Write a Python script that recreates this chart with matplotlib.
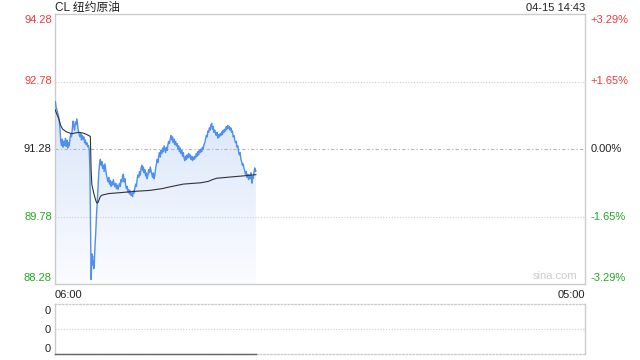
import numpy as np
import matplotlib
matplotlib.use("Agg")
import matplotlib.pyplot as plt
from matplotlib.colors import LinearSegmentedColormap
import matplotlib.transforms as mtransforms

plt.rcParams['font.family'] = ['Liberation Sans', 'Noto Sans CJK SC', 'DejaVu Sans']

# minutes after 06:00, price
minutes = [0, 1, 3, 5, 7, 9, 11, 13, 15, 17, 19, 21, 23, 25, 27, 29, 31, 33, 35, 37,
           39, 41, 43, 45, 47, 49, 51, 53, 55, 57, 59, 61, 63, 65, 67, 69, 71, 73, 75, 77,
           79, 81, 83, 85, 87, 89, 91, 92, 93, 94, 95, 96, 97, 98, 99, 100, 101, 102, 104, 106,
           108, 110, 112, 114, 116, 118, 120, 122, 124, 126, 128, 130, 132, 134, 136, 138, 140, 142, 144, 146,
           148, 150, 152, 154, 156, 158, 160, 162, 164, 166, 168, 170, 172, 174, 176, 178, 180, 182, 184, 186,
           188, 190, 192, 194, 196, 198, 200, 202, 204, 206, 208, 210, 212, 214, 216, 218, 220, 222, 224, 226,
           228, 230, 232, 234, 236, 238, 240, 242, 244, 246, 248, 250, 252, 254, 256, 258, 260, 262, 264, 266,
           268, 270, 272, 274, 276, 278, 280, 282, 284, 286, 288, 290, 292, 294, 296, 298, 300, 302, 304, 306,
           308, 310, 312, 314, 316, 318, 320, 322, 324, 326, 328, 330, 332, 334, 336, 338, 340, 342, 344, 346,
           348, 350, 352, 354, 356, 358, 360, 362, 364, 366, 368, 370, 372, 374, 376, 378, 380, 382, 384, 386,
           388, 390, 392, 394, 396, 398, 400, 402, 404, 406, 408, 410, 412, 414, 416, 418, 420, 422, 424, 426,
           428, 430, 432, 434, 436, 438, 440, 442, 444, 446, 448, 450, 452, 454, 456, 458, 460, 462, 464, 466,
           468, 470, 472, 474, 476, 478, 480, 482, 484, 486, 488, 490, 492, 494, 496, 498, 500, 502, 504, 506,
           508, 510, 512, 513, 514, 516, 518, 520, 522, 523]
price = [92.25, 92.33, 92.20, 92.15, 92.08, 92.02, 91.90, 91.72, 91.45, 91.36, 91.50, 91.32, 91.45, 91.36, 91.52, 91.34, 91.48, 91.30, 91.42, 91.35,
         91.52, 91.60, 91.55, 91.72, 91.90, 91.78, 91.70, 91.88, 91.82, 91.95, 91.80, 91.68, 91.60, 91.55, 91.62, 91.48, 91.58, 91.50, 91.55, 91.42,
         91.48, 91.38, 91.42, 91.33, 91.36, 91.28, 90.80, 90.00, 89.30, 88.38, 88.60, 88.95, 88.85, 88.90, 88.70, 88.80, 88.62, 88.68, 89.10, 89.40,
         89.80, 90.10, 90.45, 90.75, 90.95, 91.05, 90.92, 91.00, 90.85, 90.92, 90.78, 90.95, 90.82, 90.70, 90.62, 90.55, 90.65, 90.50, 90.58, 90.45,
         90.55, 90.48, 90.60, 90.50, 90.44, 90.52, 90.40, 90.48, 90.38, 90.45, 90.52, 90.45, 90.60, 90.55, 90.68, 90.72, 90.55, 90.62, 90.48, 90.40,
         90.45, 90.32, 90.38, 90.28, 90.35, 90.25, 90.30, 90.22, 90.35, 90.30, 90.42, 90.50, 90.45, 90.62, 90.70, 90.65, 90.78, 90.70, 90.85, 90.92,
         90.80, 90.88, 90.75, 90.82, 90.68, 90.75, 90.62, 90.70, 90.82, 90.75, 90.88, 90.80, 90.72, 90.65, 90.75, 90.62, 90.70, 90.85, 90.95, 91.05,
         90.98, 91.12, 91.20, 91.10, 91.25, 91.18, 91.30, 91.22, 91.35, 91.28, 91.20, 91.32, 91.25, 91.38, 91.45, 91.40, 91.50, 91.58, 91.48, 91.55,
         91.42, 91.50, 91.38, 91.45, 91.35, 91.40, 91.28, 91.35, 91.22, 91.30, 91.18, 91.25, 91.12, 91.20, 91.08, 91.02, 91.12, 91.05, 91.15, 91.08,
         91.18, 91.10, 91.15, 91.05, 91.12, 91.02, 91.10, 91.05, 91.12, 91.08, 91.18, 91.12, 91.22, 91.15, 91.25, 91.20, 91.28, 91.22, 91.32, 91.28,
         91.38, 91.42, 91.50, 91.58, 91.55, 91.68, 91.65, 91.75, 91.70, 91.82, 91.85, 91.72, 91.78, 91.65, 91.70, 91.62, 91.58, 91.65, 91.52, 91.60,
         91.55, 91.62, 91.58, 91.66, 91.60, 91.70, 91.65, 91.72, 91.68, 91.78, 91.72, 91.80, 91.74, 91.78, 91.70, 91.75, 91.65, 91.68, 91.55, 91.58,
         91.48, 91.42, 91.45, 91.32, 91.35, 91.22, 91.15, 91.20, 91.05, 91.00, 90.92, 90.95, 90.85, 90.80, 90.72, 90.78, 90.65, 90.72, 90.60, 90.70,
         90.62, 90.75, 90.58, 90.52, 90.68, 90.62, 90.75, 90.86, 90.78, 90.80]

avg_minutes = [0, 5, 10, 15, 20, 30, 44, 55, 62, 75, 83, 92, 93, 94, 96, 100, 103, 106, 109, 112,
               115, 118, 121, 130, 140, 170, 209, 247, 279, 300, 334, 380, 399, 410, 421, 460, 500, 523]
avg_price = [92.16, 92.05, 91.95, 91.80, 91.72, 91.66, 91.62, 91.64, 91.65, 91.63, 91.60, 91.56, 91.20, 90.80, 90.49, 90.33, 90.23, 90.14, 90.08, 90.09,
             90.16, 90.22, 90.25, 90.27, 90.29, 90.31, 90.34, 90.36, 90.40, 90.44, 90.50, 90.53, 90.56, 90.60, 90.63, 90.66, 90.69, 90.71]

volume = [0] * len(minutes)

prev_close = 91.28
price_ticks = [94.28, 92.78, 91.28, 89.78, 88.28]
pct_labels = ['+3.29%', '+1.65%', '0.00%', '-1.65%', '-3.29%']
time_labels = ['06:00', '05:00']
session_len = 1380

RED = '#f23a3a'
GREEN = '#22a822'
BLACK = '#222222'
BORDER = '#cccccc'

fig = plt.figure(figsize=(6.4, 3.6), dpi=100)
ax = fig.add_axes([55 / 640, 1 - 284 / 360, 530 / 640, 270 / 360])
ax.set_xlim(0, session_len)
ax.set_ylim(price_ticks[-1], price_ticks[0])

# gradient fill under price line
poly = ax.fill_between(minutes, price, price_ticks[-1], color='none', lw=0)
cmap = LinearSegmentedColormap.from_list('fill', ['#fbfcff', '#d8e5fa'])
grad = np.linspace(0, 1, 256).reshape(-1, 1)
im = ax.imshow(grad, aspect='auto', cmap=cmap, origin='lower',
               extent=[minutes[0], minutes[-1], price_ticks[-1], max(price)], zorder=1)
im.set_clip_path(poly.get_paths()[0], transform=ax.transData)

for v in price_ticks[1:-1]:
    if v == prev_close:
        ax.axhline(v, color='#b5b5b5', lw=0.8, ls=(0, (3, 2, 1, 2)), zorder=2)
    else:
        ax.axhline(v, color='#cfcfcf', lw=0.8, ls=(0, (1, 1.5)), zorder=2)

ax.plot(minutes, price, color='#4d8ff2', lw=1.0, zorder=3)
ax.plot(avg_minutes, avg_price, color='#333333', lw=0.8, zorder=4)

ax.set_xticks([])
ax.set_yticks([])
for s in ax.spines.values():
    s.set_color(BORDER)
    s.set_linewidth(1)

trans_l = mtransforms.blended_transform_factory(ax.transAxes, ax.transData)
for i, (v, lab) in enumerate(zip(price_ticks, pct_labels)):
    if v > prev_close:
        c = RED
    elif v < prev_close:
        c = GREEN
    else:
        c = BLACK
    va = 'center'
    off = 0
    if i == 0:
        va, off = 'top', -0.02
    elif i == len(price_ticks) - 1:
        va, off = 'bottom', 0.03
    ax.text(-0.006, v + off, f'{v:.2f}', transform=trans_l, ha='right', va=va,
            color=c, fontsize=8)
    ax.text(1.01, v + off, lab, transform=trans_l, ha='left', va=va,
            color=c, fontsize=8)

ax.text(0.0, 1.0, 'CL 纽约原油', transform=ax.transAxes, ha='left', va='bottom',
        fontsize=8.5, color=BLACK)
ax.text(1.0, 1.003, '04-15 14:43', transform=ax.transAxes, ha='right', va='bottom',
        fontsize=8, color=BLACK)
ax.text(0.985, 0.012, 'sina.com', transform=ax.transAxes, ha='right', va='bottom',
        fontsize=8, color='#cccccc')

ax.text(0.0, -0.022, time_labels[0], transform=ax.transAxes, ha='left', va='top',
        fontsize=8, color=BLACK)
ax.text(1.0, -0.022, time_labels[1], transform=ax.transAxes, ha='right', va='top',
        fontsize=8, color=BLACK)

# volume panel
vax = fig.add_axes([55 / 640, 1 - 354 / 360, 530 / 640, 50 / 360])
vax.set_xlim(0, session_len)
vax.set_ylim(0, 1)
vax.axhline(0.5, color='#cfcfcf', lw=0.8, ls=(0, (1, 1.5)))
vax.plot(minutes, volume, color='#666666', lw=1.0, clip_on=False, zorder=3)
vax.set_xticks([])
vax.set_yticks([0.12, 0.5, 0.88])
vax.set_yticklabels(['0', '0', '0'], fontsize=8, color=BLACK)
vax.tick_params(axis='y', length=0, pad=3)
for name, s in vax.spines.items():
    s.set_color(BORDER)
    s.set_linewidth(1)
vax.spines['top'].set_linestyle((0, (1, 1.5)))
vax.spines['bottom'].set_linestyle((0, (1, 1.5)))

fig.savefig('out.png', dpi=100)
